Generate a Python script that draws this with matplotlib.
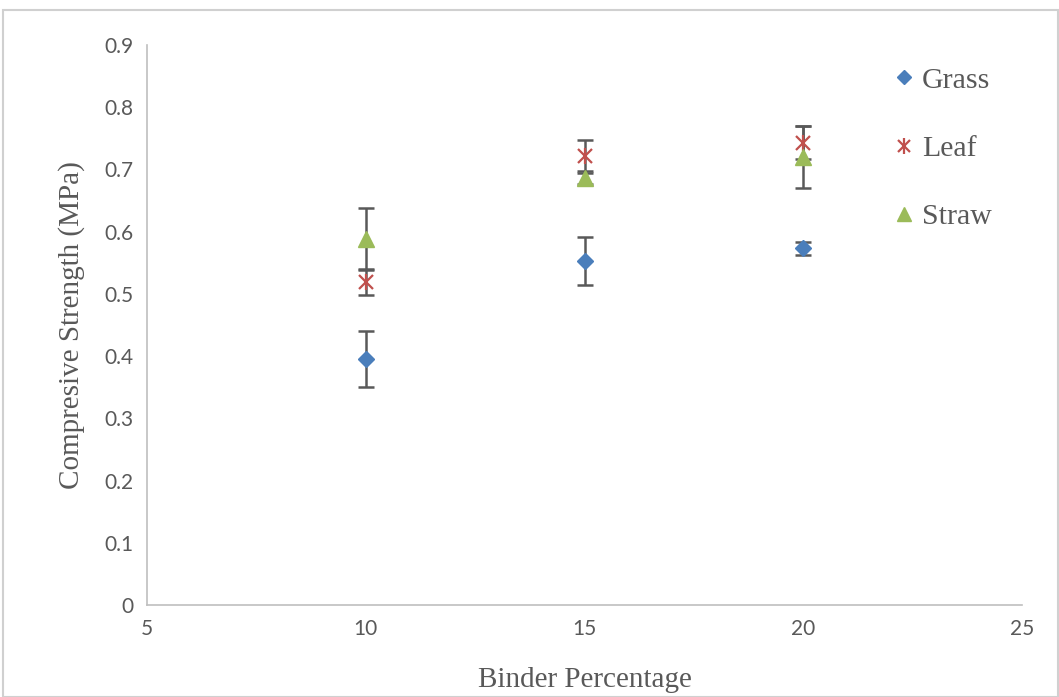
import matplotlib.pyplot as plt
from matplotlib.patches import Rectangle
from matplotlib.lines import Line2D

binder = [10, 15, 20]
grass = [0.395, 0.553, 0.573]
grass_err = [0.045, 0.039, 0.01]
leaf = [0.519, 0.721, 0.743]
leaf_err = [0.021, 0.026, 0.027]
straw = [0.588, 0.687, 0.72]
straw_err = [0.05, 0.01, 0.05]

fig = plt.figure(figsize=(10.59, 6.97), dpi=100)
ax = fig.add_axes([147/1059, 92/697, 875/1059, 560/697])

# error bars first, then markers on top
for y, e in [(grass, grass_err), (leaf, leaf_err), (straw, straw_err)]:
    ax.errorbar(binder, y, yerr=e, fmt='none', ecolor='#595959', elinewidth=1.8,
                capsize=6, capthick=1.8, zorder=2)

ax.plot(binder, grass, 'D', color='#4a7ebb', markersize=8, zorder=3)
ax.plot(binder, leaf, 'x', color='#c0504d', markersize=10, markeredgewidth=1.6, zorder=3)
ax.plot(binder, leaf, '|', color='#c0504d', markersize=12, markeredgewidth=1.6, zorder=3)
ax.plot(binder, straw, '^', color='#9bbb59', markersize=11, zorder=3)

h_grass = Line2D([], [], marker='D', color='#4a7ebb', linestyle='none', markersize=7)
h_leaf = (Line2D([], [], marker='x', color='#c0504d', linestyle='none', markersize=9, markeredgewidth=1.6),
          Line2D([], [], marker='|', color='#c0504d', linestyle='none', markersize=11, markeredgewidth=1.6))
h_straw = Line2D([], [], marker='^', color='#9bbb59', linestyle='none', markersize=10)

ax.set_xlim(5, 25)
ax.set_ylim(0, 0.9)
ax.set_xticks([5, 10, 15, 20, 25])
ax.set_yticks([0, 0.1, 0.2, 0.3, 0.4, 0.5, 0.6, 0.7, 0.8, 0.9])
ax.set_yticklabels(['0', '0.1', '0.2', '0.3', '0.4', '0.5', '0.6', '0.7', '0.8', '0.9'])
for s in ['top', 'right']:
    ax.spines[s].set_visible(False)
for s in ['left', 'bottom']:
    ax.spines[s].set_color('#bfbfbf')
    ax.spines[s].set_linewidth(1.2)
ax.tick_params(length=0, labelsize=15, labelcolor='#595959', pad=10)
for lab in ax.get_xticklabels() + ax.get_yticklabels():
    lab.set_fontfamily('Lato')

ax.set_xlabel('Binder Percentage', fontfamily='Liberation Serif', fontsize=21, color='#595959', labelpad=20)
ax.set_ylabel('Compresive Strength (MPa)', fontfamily='Liberation Serif', fontsize=21, color='#595959', labelpad=14)

leg = ax.legend([h_grass, h_leaf, h_straw], ['Grass', 'Leaf', 'Straw'],
                loc='upper left', bbox_to_anchor=(0.831, 0.982), frameon=False,
                prop={'family': 'Liberation Serif', 'size': 21.5}, labelspacing=1.38,
                handletextpad=0.0, handlelength=1.2, borderaxespad=0)
for t in leg.get_texts():
    t.set_color('#595959')

fig.patches.append(Rectangle((3/1059, 0), 1 - 4/1059, 1 - 10/697, transform=fig.transFigure,
                             fill=False, edgecolor='#d0d0d0', linewidth=1.5))

plt.savefig('out.png', dpi=100)
